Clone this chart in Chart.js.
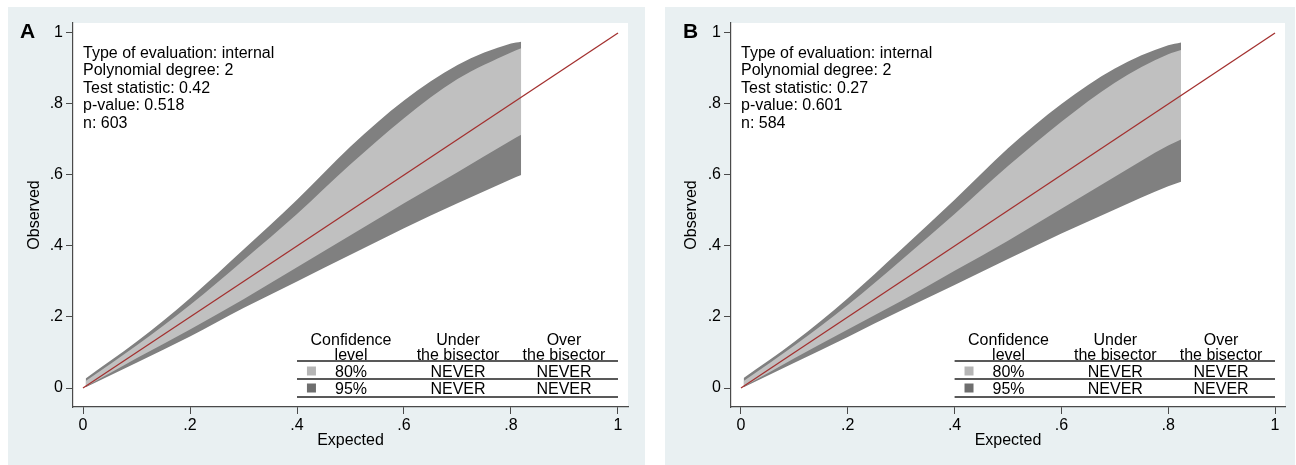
<!DOCTYPE html>
<html>
<head>
<meta charset="utf-8">
<script src="https://cdn.jsdelivr.net/npm/chart.js@4.4.1/dist/chart.umd.min.js"></script>
<style>
  html, body { margin: 0; padding: 0; background: #fff; }
  body { width: 1296px; height: 465px; position: relative; overflow: hidden; }
  .panel { position: absolute; top: 7px; height: 458px; background: #e9f0f2; }
  #panelA { left: 8px; width: 637px; }
  #panelB { left: 665px; width: 630px; }
</style>
</head>
<body>
<div class="panel" id="panelA"><canvas id="chartA"></canvas></div>
<div class="panel" id="panelB"><canvas id="chartB"></canvas></div>
<script>
// axis ticks
const tickValues = [0, 0.2, 0.4, 0.6, 0.8, 1];
const tickLabels = ['0', '.2', '.4', '.6', '.8', '1'];

// panel A - belt limits
const expectedA = [0.005, 0.1, 0.2, 0.3, 0.4, 0.5, 0.6, 0.7, 0.8, 0.819];
const upper95A  = [0.027, 0.13, 0.253, 0.39, 0.53, 0.68, 0.81, 0.91, 0.97, 0.975];
const upper80A  = [0.020, 0.12, 0.234, 0.36, 0.49, 0.63, 0.76, 0.87, 0.945, 0.957];
const lower80A  = [0.004, 0.084, 0.165, 0.25, 0.34, 0.43, 0.52, 0.608, 0.697, 0.713];
const lower95A  = [0.002, 0.071, 0.145, 0.225, 0.30, 0.375, 0.45, 0.52, 0.588, 0.600];

// panel B
const expectedB = [0.005, 0.1, 0.2, 0.3, 0.4, 0.5, 0.6, 0.7, 0.8, 0.824];
const upper95B  = [0.028, 0.13, 0.253, 0.39, 0.53, 0.675, 0.80, 0.90, 0.965, 0.973];
const upper80B  = [0.020, 0.12, 0.234, 0.36, 0.49, 0.625, 0.75, 0.86, 0.94, 0.952];
const lower80B  = [0.004, 0.084, 0.165, 0.245, 0.33, 0.415, 0.505, 0.595, 0.683, 0.700];
const lower95B  = [0.002, 0.071, 0.144, 0.218, 0.29, 0.363, 0.435, 0.503, 0.568, 0.581];

// bisector
const bisector = [0, 1];

const statsA = ['Type of evaluation: internal', 'Polynomial degree: 2', 'Test statistic: 0.42', 'p-value: 0.518', 'n: 603'];
const statsB = ['Type of evaluation: internal', 'Polynomial degree: 2', 'Test statistic: 0.27', 'p-value: 0.601', 'n: 584'];

const tableHead = [['Confidence', 'level'], ['Under', 'the bisector'], ['Over', 'the bisector']];
const tableRows = [['80%', 'NEVER', 'NEVER'], ['95%', 'NEVER', 'NEVER']];

const DARK = '#808080';
const LIGHT = '#c0c0c0';
const AXIS = '#4a4a4a';
const FONT = '"Liberation Sans", Arial, Helvetica, sans-serif';

Chart.defaults.font.family = FONT;
Chart.defaults.font.size = 16;
Chart.defaults.color = '#000';

const pts = (xs, ys) => xs.map((x, i) => ({ x: x, y: ys[i] }));

// white plot region + stata-ish notes
const plotArea = {
    id: 'plotArea',
    beforeDraw(chart) {
        const { ctx, chartArea: a } = chart;
        ctx.save();
        ctx.fillStyle = '#fff';
        ctx.fillRect(a.left, a.top, a.right - a.left, a.bottom - a.top);
        ctx.restore();
    }
};

const notes = {
    id: 'notes',
    afterDraw(chart, args, opts) {
        const { ctx, chartArea: a, scales: { x } } = chart;
        ctx.save();
        ctx.fillStyle = '#000';
        ctx.textBaseline = 'alphabetic';

        // panel letter
        ctx.font = 'bold 21px ' + FONT;
        ctx.textAlign = 'left';
        ctx.fillText(opts.letter, opts.letterX, 31);

        // stats text
        ctx.font = '16px ' + FONT;
        const x0 = x.getPixelForValue(0);
        opts.stats.forEach((s, i) => ctx.fillText(s, x0, a.top + 34.5 + i * 17.6));

        // legend table
        const b = a.bottom;
        const cols = [0.501, 0.701, 0.899].map(v => x.getPixelForValue(v));
        ctx.textAlign = 'center';
        tableHead.forEach((h, c) => {
            ctx.fillText(h[0], cols[c], b - 62);
            ctx.fillText(h[1], cols[c], b - 47);
        });
        const rowBase = [b - 30.5, b - 13];
        tableRows.forEach((r, i) => {
            r.forEach((t, c) => ctx.fillText(t, cols[c], rowBase[i]));
        });
        const sq = x.getPixelForValue(0.427);
        ctx.fillStyle = '#b5b5b5';
        ctx.fillRect(sq - 4.5, b - 40.5, 9, 9);
        ctx.fillStyle = '#6e6e6e';
        ctx.fillRect(sq - 4.5, b - 23.5, 9, 9);

        ctx.strokeStyle = '#222';
        ctx.lineWidth = 1.5;
        const xl = x.getPixelForValue(0.4), xr = x.getPixelForValue(1);
        [b - 46, b - 28, b - 10].forEach(y => {
            ctx.beginPath();
            ctx.moveTo(xl, y);
            ctx.lineTo(xr, y);
            ctx.stroke();
        });
        ctx.restore();
    }
};

function band(data, fillTarget, color) {
    return {
        data: data,
        borderWidth: 0,
        borderColor: color,
        backgroundColor: color,
        pointRadius: 0,
        cubicInterpolationMode: 'monotone',
        fill: fillTarget
    };
}

function makeChart(id, xs, u95, u80, l80, l95, stats, letter, letterX, yWidth, padRight) {
    const axisCommon = {
        type: 'linear',
        min: -0.0187,
        max: 1.0187,
        afterBuildTicks: s => { s.ticks = tickValues.map(v => ({ value: v })); },
        ticks: { callback: (v, i) => tickLabels[i], color: '#000', font: { size: 16 } },
        grid: { display: true, drawOnChartArea: false, drawTicks: true, tickLength: 7, color: AXIS, lineWidth: 1 },
        border: { display: true, color: AXIS, width: 1.2 }
    };
    new Chart(document.getElementById(id), {
        type: 'line',
        data: {
            datasets: [
                {
                    data: pts(bisector, bisector),
                    borderColor: '#a3302f',
                    borderWidth: 1.3,
                    pointRadius: 0,
                    fill: false
                },
                band(pts(xs, u80), 2, LIGHT),
                band(pts(xs, l80), false, LIGHT),
                band(pts(xs, u95), 4, DARK),
                band(pts(xs, l95), false, DARK)
            ]
        },
        options: {
            responsive: true,
            maintainAspectRatio: false,
            animation: false,
            layout: { padding: { top: 16, right: padRight, left: 0, bottom: 0 } },
            scales: {
                x: Object.assign({}, axisCommon, {
                    ticks: Object.assign({}, axisCommon.ticks, { padding: 2, maxRotation: 0 }),
                    title: { display: true, text: 'Expected', font: { size: 16 }, color: '#000', padding: { top: 0, bottom: 15 } },
                    afterFit: s => { s.height = 58; }
                }),
                y: Object.assign({}, axisCommon, {
                    min: -0.0535,
                    max: 1.028,
                    ticks: Object.assign({}, axisCommon.ticks, { padding: 3 }),
                    title: { display: true, text: 'Observed', font: { size: 16 }, color: '#000', padding: { top: 17, bottom: 0 } },
                    afterFit: s => { s.width = yWidth; }
                })
            },
            plugins: {
                legend: { display: false },
                tooltip: { enabled: false },
                notes: { stats: stats, letter: letter, letterX: letterX }
            }
        },
        plugins: [plotArea, notes]
    });
}

makeChart('chartA', expectedA, upper95A, upper80A, lower80A, lower95A, statsA, 'A', 12, 65, 17);
makeChart('chartB', expectedB, upper95B, upper80B, lower80B, lower95B, statsB, 'B', 18, 66, 10);
</script>
</body>
</html>
